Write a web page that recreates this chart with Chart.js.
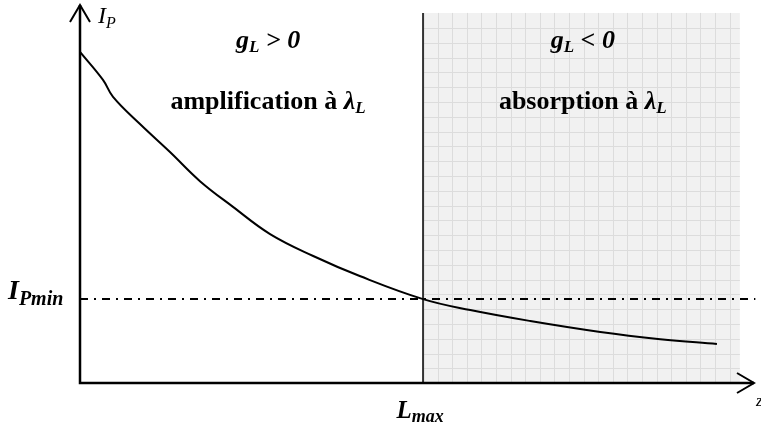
<!DOCTYPE html>
<html>
<head>
<meta charset="utf-8">
<script src="https://cdn.jsdelivr.net/npm/chart.js@4"></script>
<style>
  body { margin: 0; background: #fff; }
  #wrap { width: 761px; height: 427px; }
</style>
</head>
<body>
<div id="wrap"><canvas id="myChart"></canvas></div>
<script>
// position z (arbitrary units, 0..100) and pump intensity I_P (0..100)
const zPos = [0, 3.41, 4.9, 8.9, 13.35, 17.8, 22.7, 28.2, 34.6, 41.5, 50.9, 57.9, 66.8, 77.2, 86.1, 94.5];
const pumpI = [87.6, 80.2, 75.7, 68.5, 61.1, 53.4, 46.6, 39.4, 33.6, 28.3, 22.2, 19.3, 16.4, 13.5, 11.6, 10.3];
const Lmax = 50.9;        // gain nul
const IPmin = 22.2;       // seuil
const zoneEnd = 97.9;     // fin de la zone grisée
const zoneTop = 97.9;
const zoneSigns = ['> 0', '< 0'];
const zoneNames = ['amplification à ', 'absorption à '];
const zoneCenters = [27.9, 74.6];

const SERIF = '"Liberation Serif", "Times New Roman", serif';
const f = (style, size) => `${style} ${size}px ${SERIF}`;

function drawParts(ctx, parts, x0, base, align) {
  let w = 0;
  parts.forEach(p => { ctx.font = p.font; w += ctx.measureText(p.text).width; });
  let x = align === 'center' ? x0 - w / 2 : x0;
  parts.forEach(p => {
    ctx.font = p.font;
    ctx.fillText(p.text, x, base + (p.dy || 0));
    x += ctx.measureText(p.text).width;
  });
}

const schema = {
  id: 'schema',
  beforeDatasetsDraw(chart) {
    const { ctx, scales: { x, y } } = chart;
    const x0 = x.getPixelForValue(Lmax), x1 = x.getPixelForValue(zoneEnd);
    const yTop = y.getPixelForValue(zoneTop), yBot = y.getPixelForValue(0);
    ctx.save();
    ctx.fillStyle = '#f1f1f1';
    ctx.fillRect(x0, yTop, x1 - x0, yBot - yTop);
    ctx.strokeStyle = '#dcdcdc';
    ctx.lineWidth = 1;
    ctx.beginPath();
    for (let px = x0 + 14.6; px < x1 - 2; px += 14.6) {
      ctx.moveTo(Math.round(px) + 0.5, yTop); ctx.lineTo(Math.round(px) + 0.5, yBot);
    }
    for (let py = yTop + 15; py < yBot - 2; py += 14.8) {
      ctx.moveTo(x0, Math.round(py) + 0.5); ctx.lineTo(x1, Math.round(py) + 0.5);
    }
    ctx.stroke();
    ctx.restore();
  },
  afterDatasetsDraw(chart) {
    const { ctx, chartArea: a, scales: { x, y } } = chart;
    ctx.save();
    // axes
    ctx.strokeStyle = '#000';
    ctx.lineWidth = 2.5;
    ctx.beginPath();
    ctx.moveTo(a.left, a.top); ctx.lineTo(a.left, a.bottom); ctx.lineTo(a.right, a.bottom);
    ctx.stroke();
    ctx.lineWidth = 2;
    ctx.beginPath();
    ctx.moveTo(a.left - 10, a.top + 17); ctx.lineTo(a.left, a.top); ctx.lineTo(a.left + 10, a.top + 17);
    ctx.moveTo(a.right - 17, a.bottom - 10); ctx.lineTo(a.right, a.bottom); ctx.lineTo(a.right - 17, a.bottom + 10);
    ctx.stroke();

    ctx.fillStyle = '#000';
    ctx.textBaseline = 'alphabetic';
    // axis titles
    drawParts(ctx, [
      { text: 'I', font: f('italic', 24) },
      { text: 'P', font: f('italic', 16), dy: 5 }
    ], a.left + 18, a.top + 18, 'left');
    ctx.font = f('italic', 17);
    ctx.fillText('z', a.right + 2, a.bottom + 23);

    // zone labels
    zoneSigns.forEach((s, i) => {
      const cx = x.getPixelForValue(zoneCenters[i]);
      drawParts(ctx, [
        { text: 'g', font: f('bold italic', 26) },
        { text: 'L', font: f('bold italic', 17), dy: 4 },
        { text: ' ' + s, font: f('bold italic', 26) }
      ], cx, y.getPixelForValue(88.6), 'center');
      drawParts(ctx, [
        { text: zoneNames[i], font: f('bold', 26) },
        { text: 'λ', font: f('bold italic', 26) },
        { text: 'L', font: f('bold italic', 17), dy: 4 }
      ], cx, y.getPixelForValue(72.5), 'center');
    });

    // I_Pmin and L_max
    drawParts(ctx, [
      { text: 'I', font: f('bold italic', 28) },
      { text: 'Pmin', font: f('bold italic', 20), dy: 6 }
    ], 8, y.getPixelForValue(IPmin), 'left');
    drawParts(ctx, [
      { text: 'L', font: f('bold italic', 25) },
      { text: 'max', font: f('bold italic', 18), dy: 4 }
    ], x.getPixelForValue(Lmax) - 3, a.bottom + 35, 'center');
    ctx.restore();
  }
};

const ctx = document.getElementById('myChart');
new Chart(ctx, {
  type: 'line',
  data: {
    datasets: [
      {
        label: 'I_P(z)',
        data: zPos.map((z, i) => ({ x: z, y: pumpI[i] })),
        borderColor: '#000',
        borderWidth: 2,
        pointRadius: 0,
        tension: 0.4,
        fill: false
      },
      {
        label: 'IPmin',
        data: [{ x: 0, y: IPmin }, { x: 100.2, y: IPmin }],
        borderColor: '#000',
        borderWidth: 2,
        borderDash: [8, 6, 2, 6],
        pointRadius: 0,
        clip: false
      },
      {
        label: 'Lmax',
        data: [{ x: Lmax, y: 0 }, { x: Lmax, y: zoneTop }],
        borderColor: '#333',
        borderWidth: 2,
        pointRadius: 0
      }
    ]
  },
  options: {
    responsive: true,
    maintainAspectRatio: false,
    animation: false,
    layout: { padding: { left: 80, right: 7, top: 5, bottom: 44 } },
    plugins: { legend: { display: false }, tooltip: { enabled: false } },
    scales: {
      x: { type: 'linear', min: 0, max: 100, display: false },
      y: { min: 0, max: 100, display: false }
    }
  },
  plugins: [schema]
});
</script>
</body>
</html>
